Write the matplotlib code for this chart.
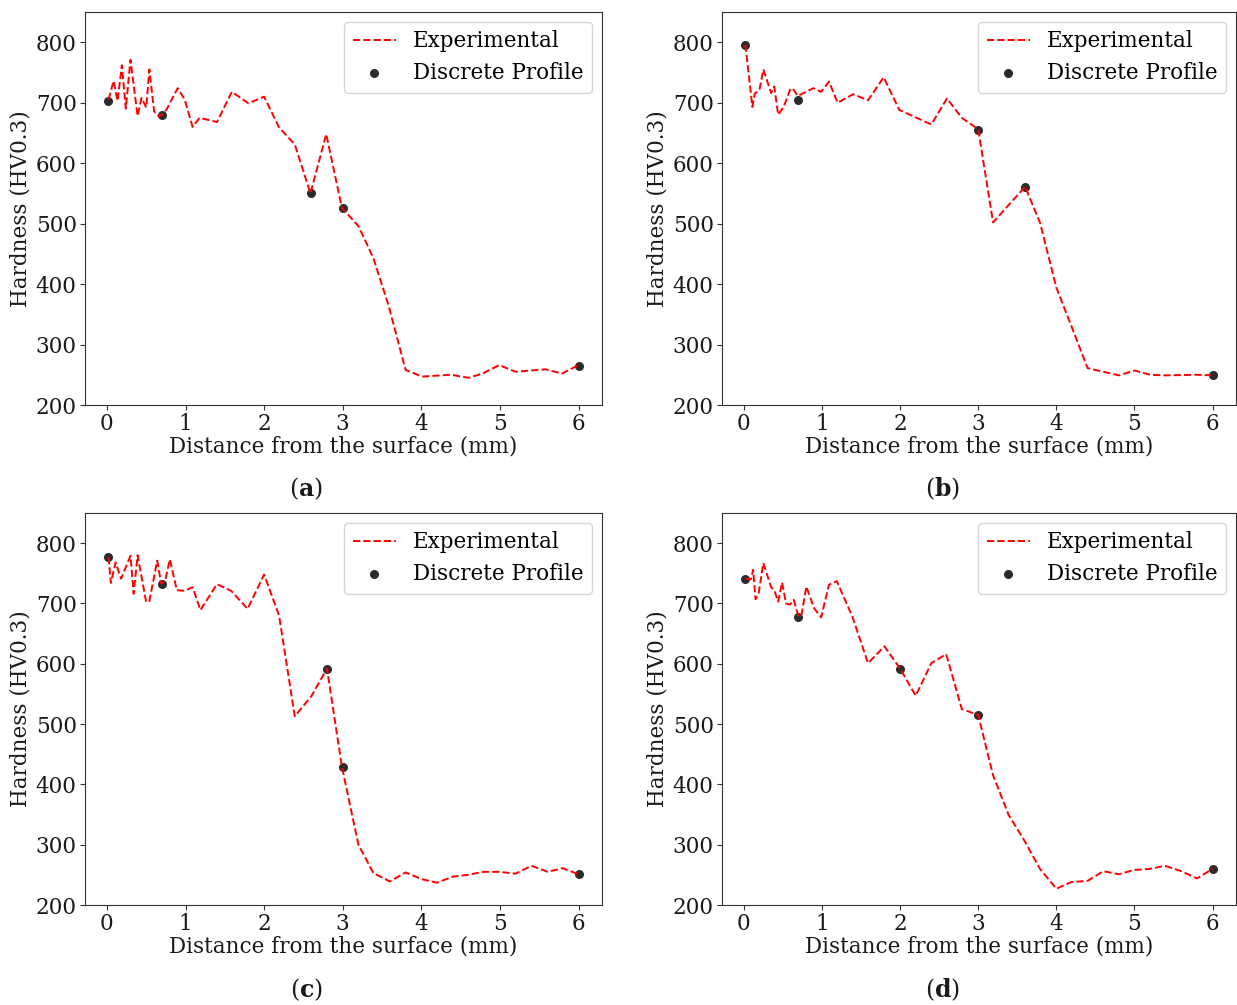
import matplotlib
matplotlib.use("Agg")
import matplotlib.pyplot as plt

plt.rcParams['font.family'] = ['DejaVu Serif']
plt.rcParams['mathtext.fontset'] = 'dejavuserif'

# ---- data ----
a_exp_x = [0.02, 0.085, 0.135, 0.19, 0.24, 0.3, 0.39, 0.44, 0.5, 0.54, 0.6, 0.66, 0.7, 0.76, 0.9, 0.99,
           1.09, 1.18, 1.4, 1.59, 1.8, 2.0, 2.19, 2.39, 2.59, 2.79, 2.99, 3.2, 3.39, 3.58, 3.8, 4.01,
           4.38, 4.6, 4.78, 4.99, 5.2, 5.58, 5.79, 6.0]
a_exp_y = [705, 736, 703, 762, 690, 771, 678, 708, 692, 755, 686, 677, 680, 689, 724, 705,
           660, 675, 668, 718, 699, 710, 659, 631, 550, 648, 526, 496, 443, 366, 258, 247,
           250, 245, 252, 266, 255, 259, 252, 266]
a_disc_x = [0.02, 0.7, 2.6, 3.0, 6.0]
a_disc_y = [703, 680, 550, 525, 265]

b_exp_x = [0.02, 0.11, 0.14, 0.2, 0.25, 0.35, 0.39, 0.44, 0.51, 0.6, 0.64, 0.69, 0.89, 0.99, 1.09,
           1.2, 1.4, 1.59, 1.79, 1.99, 2.4, 2.6, 2.79, 3.0, 3.19, 3.6, 3.79, 4.0, 4.2, 4.4, 4.8,
           5.0, 5.2, 5.39, 5.8, 6.0]
b_exp_y = [796, 693, 715, 721, 755, 716, 727, 680, 693, 724, 721, 711, 724, 718, 735,
           700, 714, 704, 742, 688, 664, 707, 675, 656, 502, 561, 502, 394, 328, 261, 249,
           257, 250, 249, 250, 249]
b_disc_x = [0.02, 0.7, 3.0, 3.6, 6.0]
b_disc_y = [796, 704, 655, 561, 249]

c_exp_x = [0.02, 0.05, 0.11, 0.18, 0.3, 0.34, 0.39, 0.5, 0.54, 0.64, 0.69, 0.74, 0.8, 0.89, 0.99,
           1.09, 1.19, 1.4, 1.58, 1.79, 2.0, 2.19, 2.39, 2.6, 2.8, 2.99, 3.2, 3.39, 3.6, 3.8, 4.0,
           4.2, 4.4, 4.59, 4.79, 4.99, 5.2, 5.4, 5.61, 5.8, 6.0]
c_exp_y = [777, 734, 768, 741, 779, 716, 780, 702, 704, 771, 733, 737, 773, 722, 721,
           727, 689, 732, 721, 691, 748, 680, 513, 546, 592, 429, 300, 253, 239, 254, 243,
           237, 247, 250, 255, 255, 252, 265, 255, 261, 251]
c_disc_x = [0.02, 0.7, 2.8, 3.0, 6.0]
c_disc_y = [777, 733, 592, 429, 251]

d_exp_x = [0.02, 0.09, 0.12, 0.15, 0.19, 0.25, 0.35, 0.39, 0.44, 0.49, 0.54, 0.59, 0.64, 0.7, 0.74,
           0.8, 0.9, 0.99, 1.09, 1.19, 1.39, 1.59, 1.8, 2.0, 2.2, 2.4, 2.59, 2.79, 3.0, 3.19, 3.39,
           3.59, 3.79, 4.0, 4.19, 4.4, 4.6, 4.8, 4.99, 5.2, 5.39, 5.6, 5.8, 6.0]
d_exp_y = [741, 740, 756, 707, 717, 767, 727, 722, 703, 735, 700, 698, 706, 678, 682,
           728, 692, 677, 731, 737, 678, 601, 629, 592, 547, 601, 616, 525, 515, 415, 349,
           307, 260, 227, 238, 240, 256, 251, 258, 260, 265, 256, 244, 260]
d_disc_x = [0.02, 0.7, 2.0, 3.0, 6.0]
d_disc_y = [741, 678, 592, 515, 260]

panels = [
    ("a", a_exp_x, a_exp_y, a_disc_x, a_disc_y),
    ("b", b_exp_x, b_exp_y, b_disc_x, b_disc_y),
    ("c", c_exp_x, c_exp_y, c_disc_x, c_disc_y),
    ("d", d_exp_x, d_exp_y, d_disc_x, d_disc_y),
]

x_ticks = [0, 1, 2, 3, 4, 5, 6]
y_ticks = [200, 300, 400, 500, 600, 700, 800]
x_label = "Distance from the surface (mm)"
y_label = "Hardness (HV0.3)"

W, H = 1237, 1005
fig = plt.figure(figsize=(W / 100, H / 100), dpi=100)

# axes boxes in pixels: left, top, right, bottom
boxes = [(85, 12, 602, 405), (722, 12, 1236, 405),
         (85, 513, 602, 905), (722, 513, 1236, 905)]
cap_pos = [(306, 489), (943, 489), (306, 990), (943, 990)]

FS = 15.5
spine_col = '#333333'
for (lab, ex, ey, dx, dy), (l, t, r, b), (cx, cy) in zip(panels, boxes, cap_pos):
    ax = fig.add_axes([l / W, 1 - b / H, (r - l) / W, (b - t) / H])
    ax.scatter(dx, dy, s=30, color='#2b2b2b', zorder=2, label='Discrete Profile')
    ax.plot(ex, ey, linestyle='--', color='red', linewidth=1.4, zorder=3, label='Experimental')
    ax.set_ylim(200, 850)
    ax.set_xticks(x_ticks)
    ax.set_yticks(y_ticks)
    ax.tick_params(labelsize=FS, color=spine_col, labelcolor='#1a1a1a', pad=2.5)
    for sp in ax.spines.values():
        sp.set_color(spine_col)
    ax.set_xlabel(x_label, fontsize=FS, labelpad=0, color='#1a1a1a')
    ax.set_ylabel(y_label, fontsize=FS, labelpad=3, color='#1a1a1a')
    handles, labels = ax.get_legend_handles_labels()
    order = [labels.index('Experimental'), labels.index('Discrete Profile')]
    ax.legend([handles[i] for i in order], [labels[i] for i in order],
              loc='upper right', fontsize=FS, framealpha=0.8, edgecolor='#cccccc',
              borderaxespad=0.45, labelspacing=0.45)
    fig.text(cx / W, 1 - cy / H, r"$(\mathbf{" + lab + r"})$", fontsize=17,
             ha='center', va='center', color='#1a1a1a')

fig.savefig("out.png", dpi=100)
